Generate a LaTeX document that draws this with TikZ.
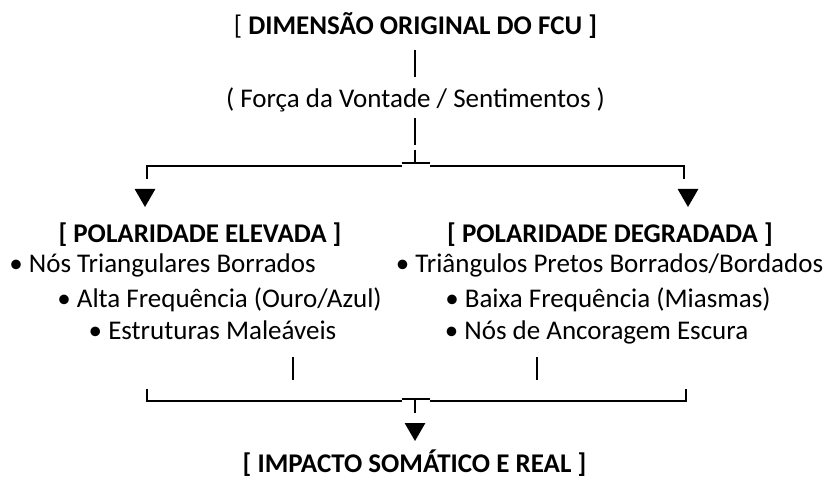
\documentclass[tikz,border=0pt]{standalone}
\usepackage{fontspec}
\setmainfont{Carlito}
\usetikzlibrary{shapes.geometric}
\begin{document}
\begin{tikzpicture}[x=1pt,y=-1pt,
  txt/.style={inner sep=0pt,anchor=base,font=\fontsize{27}{32}\selectfont},
  hd/.style={txt,font=\fontsize{27}{32}\selectfont\bfseries},
  boxline/.style={line width=1.4pt},
  barline/.style={line width=1.8pt},
  tri/.style={regular polygon,regular polygon sides=3,shape border rotate=180,
    fill=black,draw=none,minimum size=24pt,inner sep=0pt}]
\useasboundingbox (0,0) rectangle (825,478);

% texts
\node[txt] (title) at (415.5,35) {[ \textbf{DIMENSÃO ORIGINAL DO FCU ]}};
\node[txt] (forca) at (415.5,108) {( Força da Vontade / Sentimentos )};
\node[hd] (elev) at (200,243) {[ POLARIDADE ELEVADA ]};
\node[hd] (degr) at (610,243) {[ POLARIDADE DEGRADADA ]};
\node[txt] (l1) at (162.5,273) {• Nós Triangulares Borrados};
\node[txt] (r1) at (609.5,273) {• Triângulos Pretos Borrados/Bordados};
\node[txt] (l2) at (219.5,308) {• Alta Frequência (Ouro/Azul)};
\node[txt] (r2) at (608,308) {• Baixa Frequência (Miasmas)};
\node[txt] (l3) at (212.5,340) {• Estruturas Maleáveis};
\node[txt] (r3) at (596.5,340) {• Nós de Ancoragem Escura};
\node[hd] (imp) at (414.5,472) {[ IMPACTO SOMÁTICO E REAL ]};

% arrow heads
\node[tri] (tl) at (145,195) {};
\node[tri] (tr) at (688,195) {};
\node[tri] (tb) at (415,429) {};

% coordinates of the connectors
\coordinate (j1) at (415,163);
\coordinate (cl) at (147,166);
\coordinate (cr) at (684,166);
\coordinate (j2) at (415,399);
\coordinate (bl) at (147,401);
\coordinate (br) at (686,401);

% upper connectors
\draw[barline] (415,50) -- (415,77);
\draw[barline] (415,118) -- (415,145);
\draw[barline] (415,150) -- (j1);
\draw[line width=2pt] (402,163) -- (430,163);
\draw[boxline] (402,166) -- (cl) -- (147,179);
\draw[boxline] (430,166) -- (cr) -- (684,179);

% lower connectors
\draw[barline] (293,357) -- (293,380);
\draw[barline] (537,357) -- (537,380);
\draw[boxline] (147,389) -- (bl) -- (402,401);
\draw[boxline] (686,389) -- (br) -- (430,401);
\draw[line width=2pt] (402,399) -- (430,399);
\draw[barline] (j2) -- (415,413);
\end{tikzpicture}
\end{document}
